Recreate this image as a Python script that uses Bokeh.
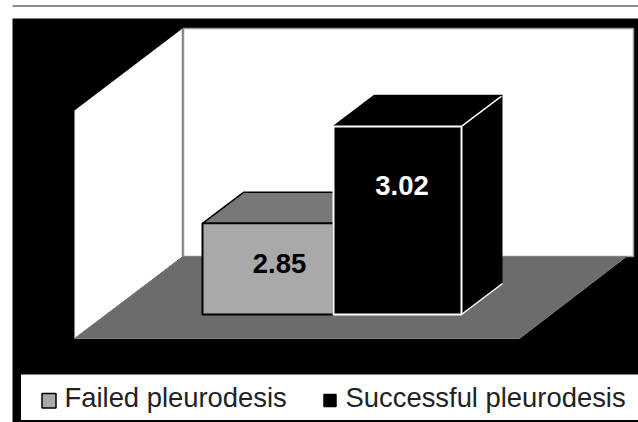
from bokeh.plotting import figure
from bokeh.models import Range1d
from bokeh.core.properties import value
from bokeh.embed import file_html
from bokeh.resources import INLINE

# data
categories = ["Failed pleurodesis", "Successful pleurodesis"]
values = [2.85, 3.02]
labels = ["2.85", "3.02"]

# layout (x and y in page picture pixels; values on their own scale)
BASE_Y, PX_PER_UNIT, BASE_VAL = 314, 570.0, 2.69
def v_at(y):
    return BASE_VAL + (BASE_Y - y) / PX_PER_UNIT

p = figure(width=638, height=422, output_backend="svg", toolbar_location=None,
           x_range=Range1d(0, 638), y_range=Range1d(422, 0),
           x_axis_type=None, y_axis_type=None, min_border=0,
           background_fill_color="white", border_fill_color="white",
           outline_line_color=None)
p.grid.visible = False
p.extra_y_ranges = {"val": Range1d(v_at(422), v_at(0))}

# top rule and black panel
p.line([12, 638], [5.5, 5.5], line_color="#666666", line_width=1.5)
p.quad(left=12, right=638, top=18, bottom=422, fill_color="black", line_color=None)

# walls and floor
p.patch([183, 633, 633, 183], [28, 28, 256, 256], fill_color="white",
        line_color="#9a9a9a", line_width=1.5)
p.patch([74, 182, 182, 74], [110, 28, 256, 338], fill_color="white", line_color=None)
p.line([182, 182], [28, 256], line_color="#808080", line_width=1.5)
p.patch([183, 626, 519, 74], [256, 256, 338, 338], fill_color="#6c6c6c",
        line_color="#808080", line_width=1)

# bars
lefts = [202, 333]
rights = [333, 461]
fronts = ["#a9a9a9", "#000000"]
tops = ["#787878", "#000000"]
edges = ["#000000", "#ffffff"]
dx = 41
dv = 31 / PX_PER_UNIT
for l, r, v, f, t, e in zip(lefts, rights, values, fronts, tops, edges):
    p.patch([r, r + dx, r + dx, r], [BASE_VAL, BASE_VAL + dv, v + dv, v],
            fill_color=t, line_color=None, y_range_name="val")
    p.patch([l, l + dx, r + dx, r], [v, v + dv, v + dv, v],
            fill_color=t, line_color=None, y_range_name="val")
    # visible receding edges only
    p.line([r, r + dx], [v, v + dv], line_color=e, line_width=1.5, y_range_name="val")
    p.line([r, r + dx], [BASE_VAL, BASE_VAL + dv], line_color=e, line_width=1.5,
           y_range_name="val")
    p.line([l, l + dx, r + dx], [v, v + dv, v + dv], line_color="#000000",
           line_width=1.5, y_range_name="val")
    p.quad(left=l, right=r, bottom=BASE_VAL, top=v, fill_color=f,
           line_color=e, line_width=2, y_range_name="val")

# value labels
p.text([279, 401.5], [263, 184.5], text=labels, text_color=["#000000", "#ffffff"],
       text_font=value("Liberation Sans"), text_font_style="bold",
       text_font_size="27.5px", text_align="center", text_baseline="middle")

# legend
p.quad(left=20, right=638, top=373.5, bottom=420, fill_color="white",
       line_color="black", line_width=1)
p.quad(left=[41.5, 323.5], right=[55.5, 335.5], top=[393, 394], bottom=[407.5, 406],
       fill_color=["#a9a9a9", "#000000"], line_color="black", line_width=1.5)
p.text([64, 345], [397, 397], text=categories, text_color="#222222",
       text_font=value("Liberation Sans"), text_font_size="27.4px",
       text_align="left", text_baseline="middle")

open("out.html", "w").write(file_html(p, INLINE))
